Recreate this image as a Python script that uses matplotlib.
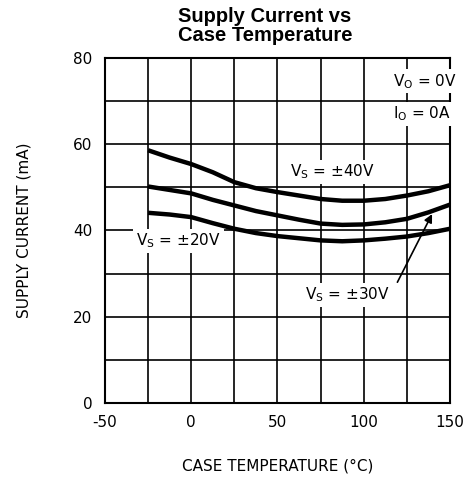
import matplotlib
matplotlib.use("Agg")
import matplotlib.pyplot as plt

# Case temperature (°C) and supply current (mA)
temps = [-25, -12.5, 0, 12.5, 25, 37.5, 50, 62.5, 75, 87.5, 100, 112.5, 125, 137.5, 150]
vs40 = [58.6, 56.9, 55.4, 53.5, 51.2, 49.8, 48.9, 48.1, 47.3, 46.9, 46.9, 47.3, 48.1, 49.1, 50.5]
vs30 = [50.2, 49.4, 48.6, 47.1, 45.8, 44.5, 43.5, 42.5, 41.6, 41.3, 41.4, 41.9, 42.7, 44.2, 46.0]
vs20 = [44.1, 43.7, 43.1, 41.7, 40.4, 39.4, 38.7, 38.2, 37.7, 37.5, 37.7, 38.1, 38.6, 39.4, 40.4]

xticks = [-50, 0, 50, 100, 150]
yticks = [0, 20, 40, 60, 80]

plt.rcParams['font.family'] = ['DejaVu Sans']
plt.rcParams['mathtext.default'] = 'regular'

fig = plt.figure(figsize=(4.67, 4.84), dpi=100)
ax = fig.add_axes([0.2248, 0.1674, 0.9636 - 0.2248, 0.8802 - 0.1674])

ax.set_xlim(-50, 150)
ax.set_ylim(0, 80)
ax.set_xticks(range(-50, 151, 25))
ax.set_yticks(range(0, 81, 10))
ax.set_xticklabels([str(t) if t in xticks else "" for t in range(-50, 151, 25)])
ax.set_yticklabels([str(t) if t in yticks else "" for t in range(0, 81, 10)])
ax.tick_params(length=0, labelsize=11, pad=9)
ax.grid(True, color='black', linewidth=1.2)
for s in ax.spines.values():
    s.set_linewidth(1.5)

for ys in (vs40, vs30, vs20):
    ax.plot(temps, ys, color='black', linewidth=3.2,
            solid_capstyle='butt', solid_joinstyle='round')

box = dict(facecolor='white', edgecolor='none', pad=2)
ax.text(57, 52.5, r'V$_{S}$ = ±40V', fontsize=11, bbox=box, zorder=5)
ax.text(-32, 36.5, r'V$_{S}$ = ±20V', fontsize=11, bbox=box, zorder=5)
ax.text(66, 24.0, r'V$_{S}$ = ±30V', fontsize=11, bbox=box, zorder=5)
ax.annotate('', xy=(139.6, 43.8), xytext=(119.5, 28.0), zorder=6,
            arrowprops=dict(arrowstyle='-|>', color='black', lw=1.2,
                            mutation_scale=12, shrinkA=0, shrinkB=0))
ax.text(117, 73.5, r'V$_{O}$ = 0V', fontsize=11, bbox=box, zorder=5)
ax.text(117, 66.0, r'I$_{O}$ = 0A', fontsize=11, bbox=box, zorder=5)

ax.set_xlabel('CASE TEMPERATURE (°C)', fontsize=11, labelpad=20)
ax.set_ylabel('SUPPLY CURRENT (mA)', fontsize=11, labelpad=30)
fig.text(0.567, 0.985, 'Supply Current vs\nCase Temperature', ha='center',
         va='top', fontsize=14.5, fontweight='bold', family='Liberation Sans',
         linespacing=0.95)

fig.savefig('out.png', dpi=100)
